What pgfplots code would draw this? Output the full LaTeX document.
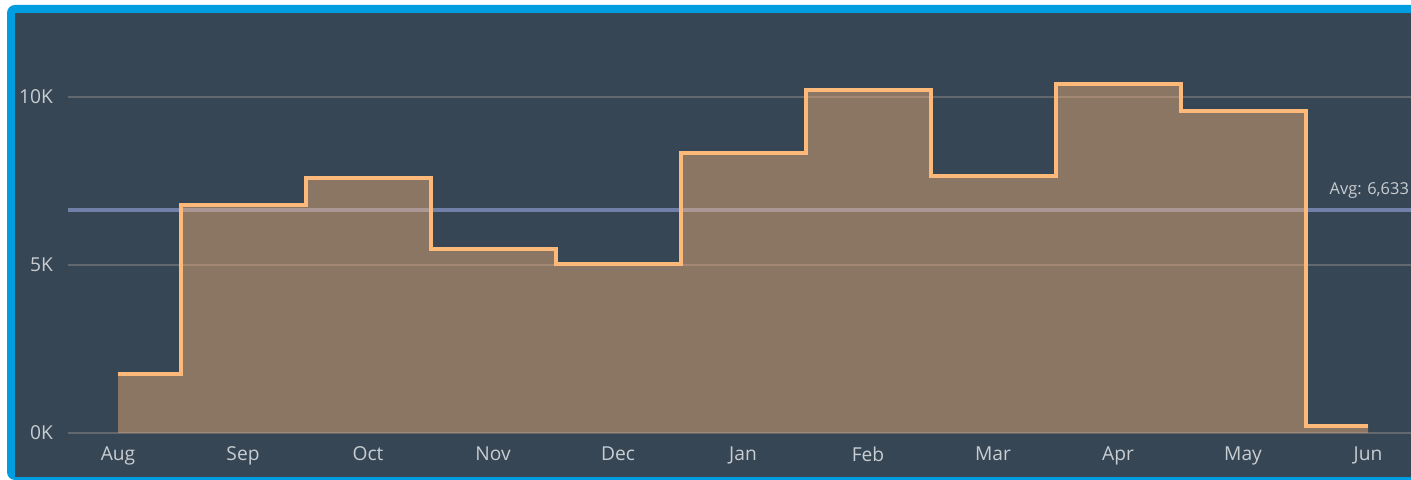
\documentclass[border=0pt]{standalone}
\usepackage{pgfplots}
\pgfplotsset{compat=1.18}
\usepackage{fontspec}
\setmainfont{Open Sans}
\definecolor{bgc}{RGB}{55,70,84}
\definecolor{bordc}{RGB}{0,158,224}
\definecolor{linec}{RGB}{253,185,122}
\definecolor{avgc}{RGB}{112,128,168}
\definecolor{gridc}{RGB}{98,104,110}
\definecolor{txtc}{RGB}{200,205,210}
\begin{document}
\begin{tikzpicture}[x=0.5pt,y=0.5pt]
\useasboundingbox (0,0) rectangle (1411,480);
\fill[white] (0,0) rectangle (1411,480);
\fill[bordc, rounded corners=4pt] (7,0) rectangle (1420,475);
\fill[bgc] (15,3) rectangle (1411,467);
\begin{axis}[
  at={(34pt,23.5pt)}, anchor=south west,
  scale only axis, width=671.5pt, height=210pt,
  xmin=-0.4, xmax=10.344, ymin=0, ymax=12.5,
  axis line style={draw=none},
  major tick length=0pt,
  ytick={0,5,10}, yticklabels={0K,5K,10K},
  xtick={0,1,2,3,4,5,6,7,8,9,10},
  xticklabels={Aug,Sep,Oct,Nov,Dec,Jan,Feb,Mar,Apr,May,Jun},
  ymajorgrids, grid style={gridc, line width=0.75pt},
  tick label style={font=\fontsize{9.6}{11}\selectfont, text=txtc},
  yticklabel style={xshift=-4pt},
  xticklabel style={yshift=-3.5pt},
  clip=false,
]
\addplot[avgc, line width=2pt] coordinates {(-0.4,6.633) (10.344,6.633)};
\addplot[const plot mark mid, draw=none, fill=linec, fill opacity=0.42] coordinates {
(0,1.75) (1,6.80) (2,7.58) (3,5.47) (4,5.02) (5,8.32) (6,10.22) (7,7.66) (8,10.40) (9,9.57) (10,0.22)
} \closedcycle;
\addplot[const plot mark mid, linec, line width=2pt, line join=miter] coordinates {
(0,1.75) (1,6.80) (2,7.58) (3,5.47) (4,5.02) (5,8.32) (6,10.22) (7,7.66) (8,10.40) (9,9.57) (10,0.22)
};
\node[anchor=south east, text=txtc, font=\fontsize{8.2}{9}\selectfont, inner sep=0pt] at (axis cs:10.33,6.98) {Avg: 6,633};
\end{axis}
\end{tikzpicture}
\end{document}
